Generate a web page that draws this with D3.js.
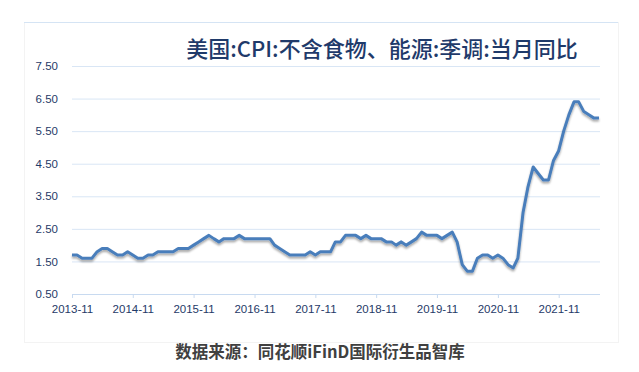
<!DOCTYPE html>
<html>
<head>
<meta charset="utf-8">
<script src="https://cdn.jsdelivr.net/npm/d3@7"></script>
<style>
  body { margin: 0; background: #fff; }
  #chart text { font-family: "Liberation Sans", Arial, sans-serif; }
</style>
</head>
<body>
<div id="chart"></div>
<script>
/** DATA */
const startMonth = "2013-11";
const coreCpi = [
  1.7, 1.7, 1.6, 1.6, 1.6, 1.8, 1.9, 1.9, 1.8, 1.7, 1.7, 1.8,
  1.7, 1.6, 1.6, 1.7, 1.7, 1.8, 1.8, 1.8, 1.8, 1.9, 1.9, 1.9,
  2.0, 2.1, 2.2, 2.3, 2.2, 2.1, 2.2, 2.2, 2.2, 2.3, 2.2, 2.2,
  2.2, 2.2, 2.2, 2.2, 2.0, 1.9, 1.8, 1.7, 1.7, 1.7, 1.7, 1.8,
  1.7, 1.8, 1.8, 1.8, 2.1, 2.1, 2.3, 2.3, 2.3, 2.2, 2.3, 2.2,
  2.2, 2.2, 2.1, 2.1, 2.0, 2.1, 2.0, 2.1, 2.2, 2.4, 2.3, 2.3,
  2.3, 2.2, 2.3, 2.4, 2.1, 1.4, 1.2, 1.2, 1.6, 1.7, 1.7, 1.6,
  1.7, 1.6, 1.4, 1.3, 1.6, 3.0, 3.8, 4.4, 4.2, 4.0, 4.0, 4.6,
  4.9, 5.5, 6.0, 6.4, 6.4, 6.1, 6.0, 5.9, 5.9
];
const xTickLabels = ["2013-11", "2014-11", "2015-11", "2016-11", "2017-11",
                     "2018-11", "2019-11", "2020-11", "2021-11"];
const yTicks = [0.5, 1.5, 2.5, 3.5, 4.5, 5.5, 6.5, 7.5];
const title = "美国:CPI:不含食物、能源:季调:当月同比";
const source = "数据来源：同花顺iFinD国际衍生品智库";

/** CONSTANTS */
const width = 639, height = 372;
const plot = { left: 72, right: 599, top: 66, bottom: 294 };

const parseMonth = d3.timeParse("%Y-%m");
const t0 = parseMonth(startMonth);
const data = coreCpi.map((v, i) => ({ date: d3.timeMonth.offset(t0, i), value: v }));

/** SCALES */
const xScale = d3.scaleTime()
  .domain([t0, data[data.length - 1].date])
  .range([plot.left, plot.right]);

const yScale = d3.scaleLinear()
  .domain([0.5, 7.5])
  .range([plot.bottom, plot.top]);

/** MAIN CODE */
const svg = d3.select("#chart")
  .append("svg")
  .attr("width", width)
  .attr("height", height);

// line shadow
const defs = svg.append("defs");
const filt = defs.append("filter").attr("id", "shadow")
  .attr("x", "-5%").attr("y", "-5%").attr("width", "110%").attr("height", "120%");
filt.append("feDropShadow")
  .attr("dx", 0).attr("dy", 2).attr("stdDeviation", 1.2)
  .attr("flood-color", "#000").attr("flood-opacity", 0.35);

// panel border
svg.append("rect")
  .attr("x", 24.5).attr("y", 22.5)
  .attr("width", 594).attr("height", 320)
  .attr("fill", "none").attr("stroke", "#f3f3f3");
svg.append("line")
  .attr("x1", 24).attr("x2", 618).attr("y1", 22.5).attr("y2", 22.5)
  .attr("stroke", "#d5e4f4").attr("stroke-width", 1);

// gridlines + y labels
const yAxis = d3.axisLeft(yScale)
  .tickValues(yTicks)
  .tickFormat(d3.format(".2f"))
  .tickSize(-(plot.right + 1 - plot.left))
  .tickPadding(14);

svg.append("g")
  .attr("transform", `translate(${plot.left},0)`)
  .call(yAxis)
  .call(g => g.select(".domain").remove())
  .call(g => g.selectAll(".tick line").attr("stroke", "#d9e6f5"))
  .call(g => g.selectAll(".tick text")
    .attr("fill", "#1f3a68").attr("font-size", 11.5));

// x axis
const xAxis = d3.axisBottom(xScale)
  .tickValues(xTickLabels.map(parseMonth))
  .tickFormat(d3.timeFormat("%Y-%m"))
  .tickSize(4)
  .tickSizeOuter(0)
  .tickPadding(7);

svg.append("g")
  .attr("transform", `translate(0,${plot.bottom})`)
  .call(xAxis)
  .call(g => g.select(".domain").attr("stroke", "#c8daf0")
    .attr("d", `M${plot.left},0.5H${plot.right + 1}`))
  .call(g => g.selectAll(".tick line").attr("stroke", "#c8daf0"))
  .call(g => g.selectAll(".tick text")
    .attr("fill", "#1f3a68").attr("font-size", 11.5));

// line
const line = d3.line()
  .x(d => xScale(d.date))
  .y(d => yScale(d.value));

svg.append("path")
  .datum(data)
  .attr("d", line)
  .attr("fill", "none")
  .attr("stroke", "#4a7ebb")
  .attr("stroke-width", 3)
  .attr("stroke-linejoin", "round")
  .attr("filter", "url(#shadow)");

// title
svg.append("text")
  .attr("x", 382).attr("y", 57)
  .attr("text-anchor", "middle")
  .style("font-family", "'Noto Sans CJK SC', sans-serif")
  .attr("font-size", 22)
  .attr("font-weight", 500)
  .attr("fill", "#1f3a6a")
  .text(title);

// source
svg.append("text")
  .attr("x", 320).attr("y", 358)
  .attr("text-anchor", "middle")
  .style("font-family", "'Noto Sans CJK SC', sans-serif")
  .attr("font-size", 16.5)
  .attr("font-weight", "bold")
  .attr("fill", "#404040")
  .text(source);
</script>
</body>
</html>
